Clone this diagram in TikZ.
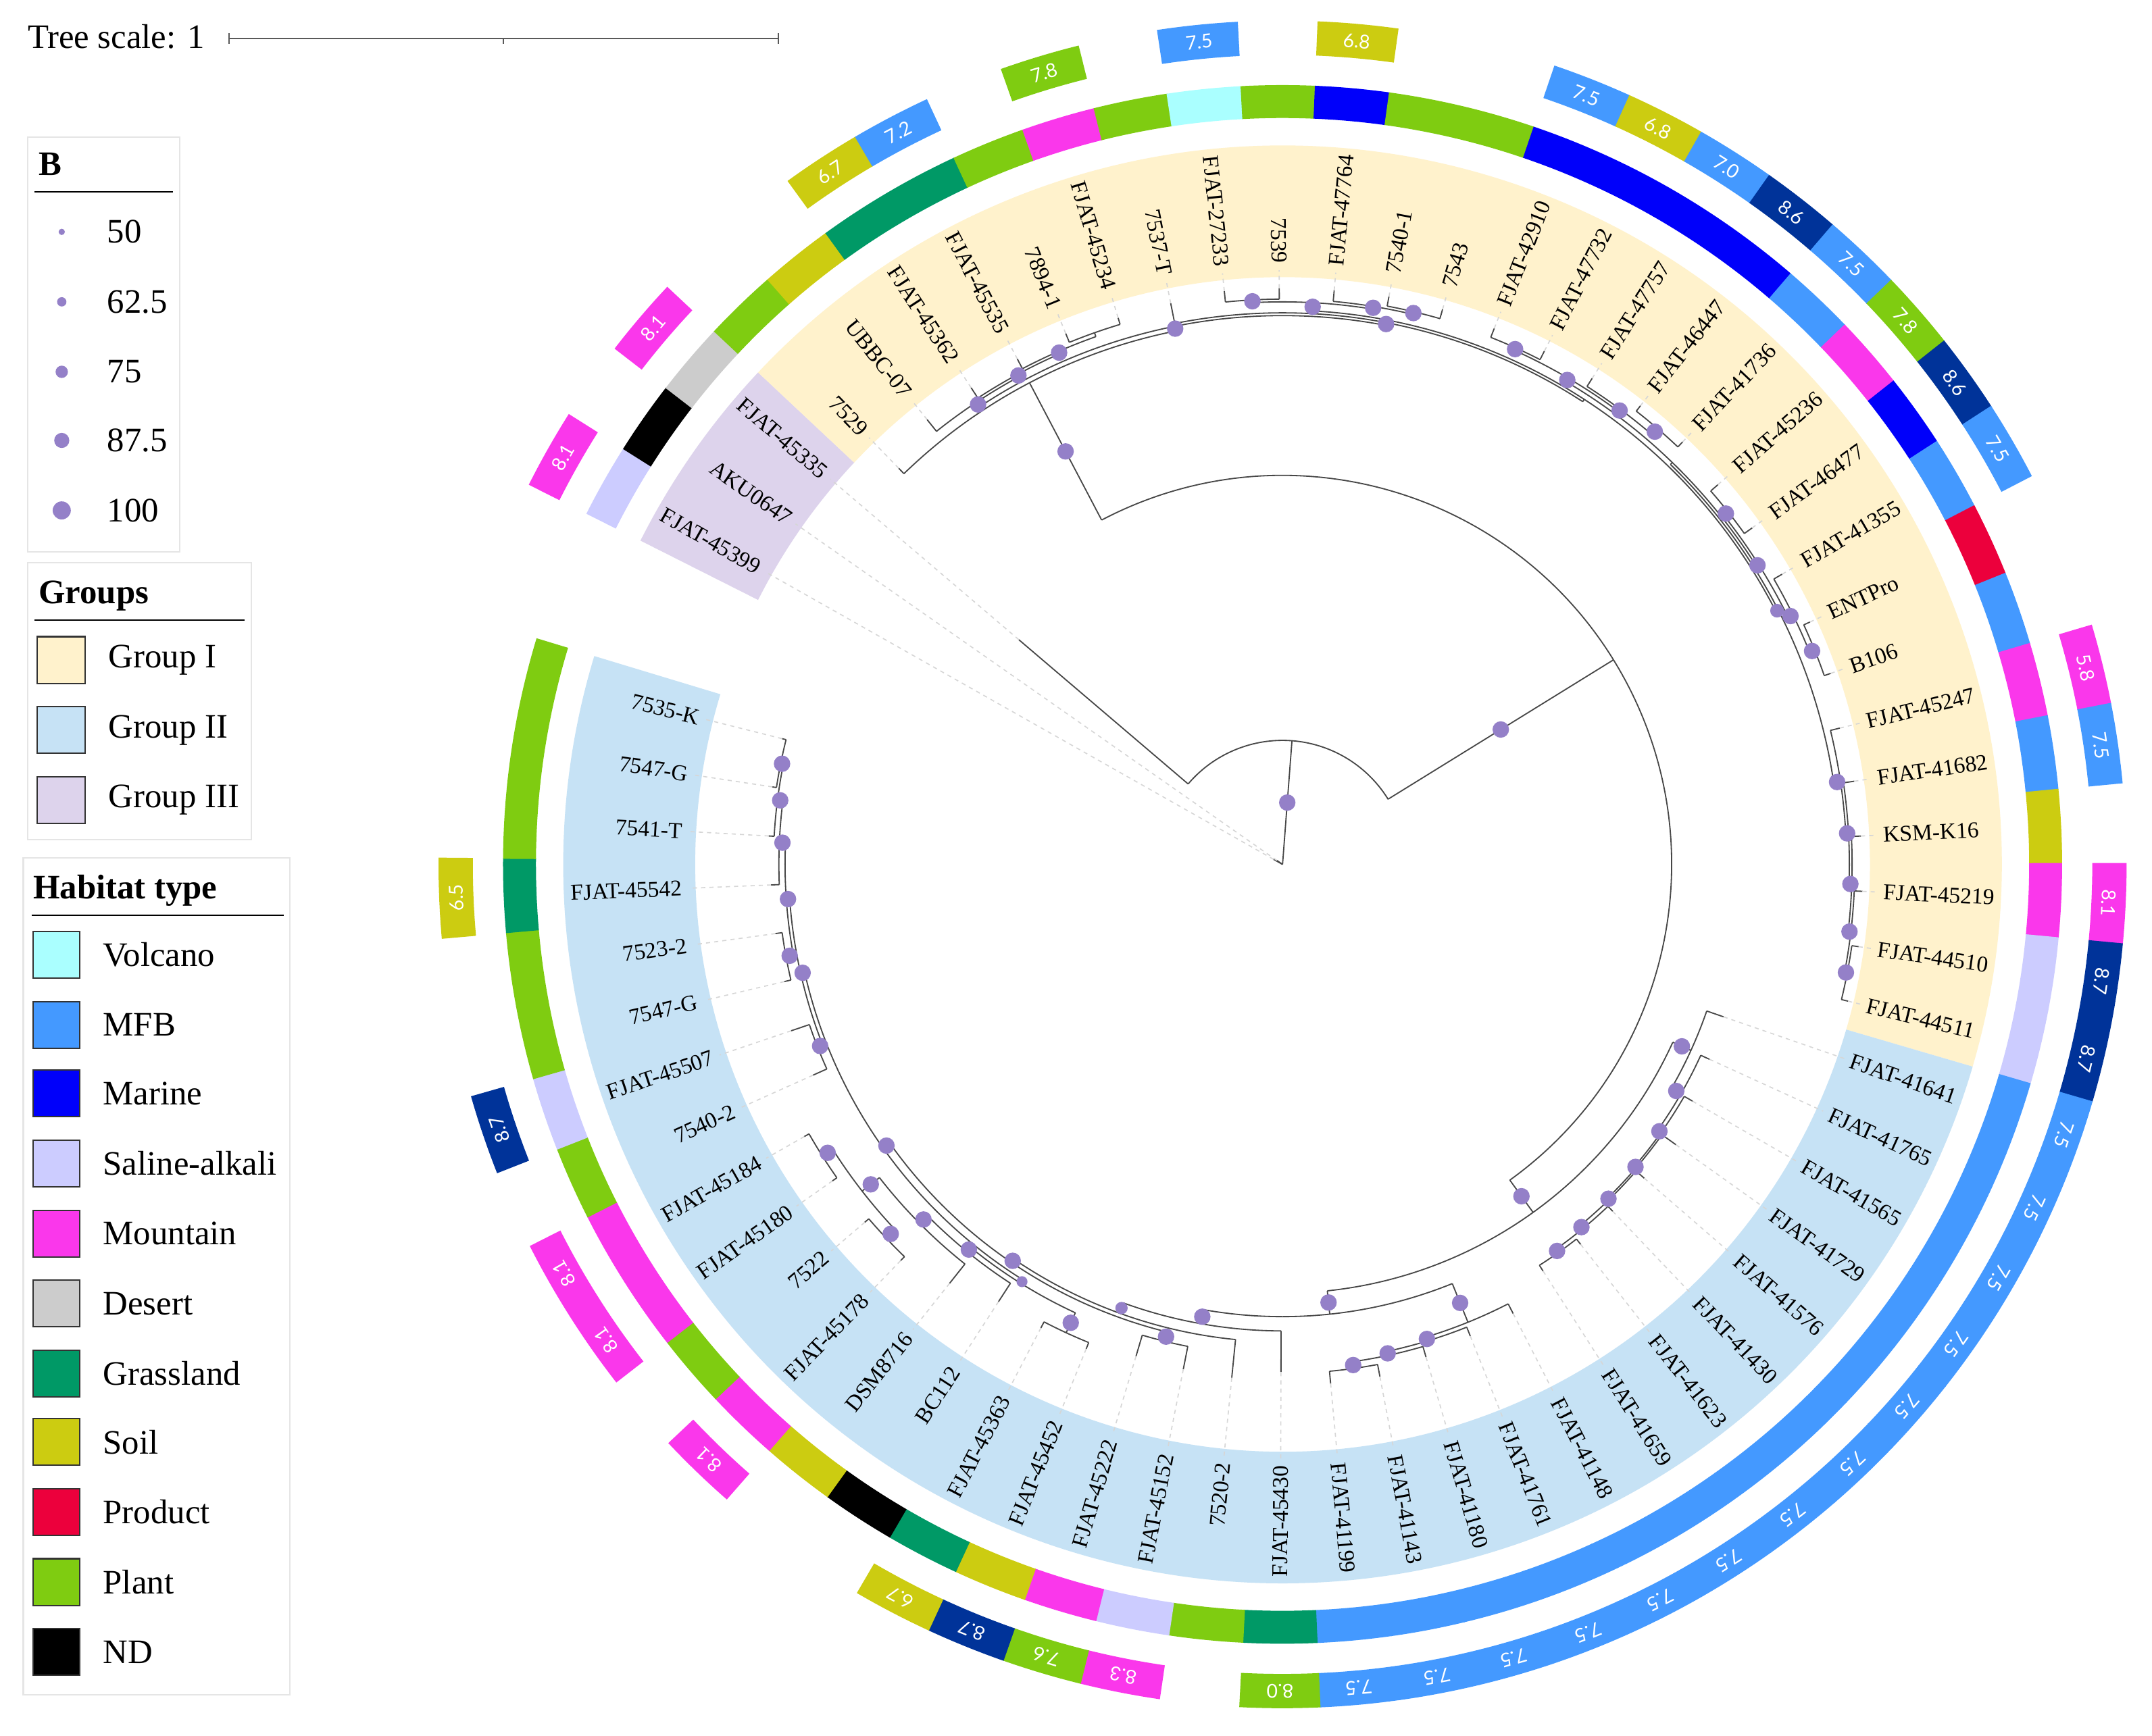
\documentclass[tikz,border=0pt]{standalone}
\usepackage{fontspec}
\setmainfont{Liberation Serif}
\newfontfamily\boxfont{Lato}
\definecolor{cVol}{RGB}{170,255,255}
\definecolor{cMFB}{RGB}{68,153,255}
\definecolor{cMar}{RGB}{0,0,250}
\definecolor{cSal}{RGB}{204,204,255}
\definecolor{cMnt}{RGB}{250,55,235}
\definecolor{cDes}{RGB}{204,204,204}
\definecolor{cGra}{RGB}{0,153,102}
\definecolor{cSoi}{RGB}{204,204,17}
\definecolor{cPro}{RGB}{236,0,60}
\definecolor{cPla}{RGB}{127,204,17}
\definecolor{cND}{RGB}{0,0,0}
\definecolor{cDB}{RGB}{0,51,153}
\definecolor{gI}{RGB}{255,242,204}
\definecolor{gII}{RGB}{198,226,245}
\definecolor{gIII}{RGB}{221,211,236}
\definecolor{bsc}{RGB}{148,128,200}
\tikzset{
 tbr/.style={draw=black!72, line width=0.9pt},
 dl/.style={draw=black!16, line width=0.8pt, dash pattern=on 3pt off 3pt},
 lab/.style={inner sep=0pt, font=\fontsize{16.5}{18}\selectfont},
 legtxt/.style={anchor=west, inner sep=0pt, font=\fontsize{25}{27}\selectfont},
 legttl/.style={anchor=base west, inner sep=0pt, font=\bfseries\fontsize{25}{27}\selectfont},
 legbox/.style={draw=black!10, line width=1pt, fill=white},
 swatch/.style={draw=black!80, line width=1pt},
 valtxt/.style={text=white, inner sep=0pt, font=\boxfont\fontsize{14}{14}\selectfont},
}
% tree node: angle, r parent, r node, first child angle, last child angle
\newcommand\tn[5]{\draw[tbr] ({#1}:{#2}) -- ({#1}:{#3}) ({#4}:{#3}) arc[start angle={#4},end angle={#5},radius={#3}];}
% leaf: angle, r parent, tip
\newcommand\lf[3]{\draw[tbr] ({#1}:{#2}) -- ({#1}:{#3}); \draw[dl] ({#1}:{#3}) -- ({#1}:433);}
% bootstrap symbol: angle, r parent, r node, size
\newcommand\bs[4]{\fill[bsc] ({#1}:{(#2+#3)/2}) circle[radius=#4];}
% annular sector: colour, a1, a2, r in, r out
\newcommand\sect[5]{\fill[#1] ({#2}:{#4}) arc[start angle={#2},end angle={#3},radius={#4}] -- ({#3}:{#5}) arc[start angle={#3},end angle={#2},radius={#5}] -- cycle;}
\begin{document}
\begin{tikzpicture}[x=1pt,y=1pt]
\useasboundingbox (-934.5,-635) rectangle (633.5,630);
\fill[white] (-934.5,-635) rectangle (633.5,630);
% group bands
\sect{gIII}{153.235}{136.825}{428}{524}
\sect{gI}{136.825}{-16.335}{428}{524}
\sect{gII}{-16.335}{-196.845}{428}{524}
% ---------------- tree ----------------
\lf{150.5}{0}{7.5}
\lf{145.03}{0}{5}
\tn{85.645}{0}{90.4}{139.56}{31.73}
\lf{139.56}{90.4}{252.5}
\tn{31.73}{90.4}{283.5}{117.71}{-54.255}
% group I
\tn{117.71}{283.5}{396.5}{134.09}{101.33}
\lf{134.09}{396.5}{402}
\tn{101.33}{396.5}{400}{123.5}{79.155}
\tn{123.5}{400}{404}{128.62}{118.37}
\lf{128.62}{404}{415}
\tn{118.37}{404}{406}{123.15}{113.58}
\lf{123.15}{406}{415}
\tn{113.58}{406}{408}{117.68}{109.475}
\lf{117.68}{408}{416}
\tn{109.475}{408}{411}{112.21}{106.74}
\lf{112.21}{411}{418}
\lf{106.74}{411}{416}
\tn{79.155}{400}{402}{101.27}{57.04}
\lf{101.27}{402}{417}
\tn{57.04}{402}{404}{86.91}{27.168}
\tn{86.91}{404}{410}{93.065}{80.76}
\tn{93.065}{410}{412}{95.80}{90.33}
\lf{95.80}{412}{420}
\lf{90.33}{412}{420}
\tn{80.76}{410}{412}{84.86}{76.655}
\lf{84.86}{412}{420}
\tn{76.655}{412}{414}{79.39}{73.92}
\lf{79.39}{414}{421}
\lf{73.92}{414}{421}
\tn{27.168}{404}{406}{45.885}{8.451}
\tn{45.885}{406}{408}{59.56}{32.21}
\tn{59.56}{408}{411}{65.715}{53.41}
\tn{65.715}{411}{413}{68.45}{62.98}
\lf{68.45}{413}{420}
\lf{62.98}{413}{420}
\tn{53.41}{411}{413}{57.51}{49.305}
\lf{57.51}{413}{420}
\tn{49.305}{413}{419}{52.04}{46.57}
\lf{52.04}{419}{424}
\lf{46.57}{419}{424}
\tn{32.21}{408}{410}{38.365}{26.06}
\tn{38.365}{410}{414}{41.10}{35.63}
\lf{41.10}{414}{421}
\lf{35.63}{414}{421}
\tn{26.06}{410}{414}{30.16}{21.955}
\lf{30.16}{414}{421}
\tn{21.955}{414}{418}{24.69}{19.22}
\lf{24.69}{418}{423}
\lf{19.22}{418}{423}
\tn{8.451}{406}{411}{13.75}{3.152}
\lf{13.75}{411}{418}
\tn{3.152}{411}{413}{8.28}{-1.976}
\lf{8.28}{413}{421}
\tn{-1.976}{413}{415}{2.81}{-6.7625}
\lf{2.81}{415}{422}
\tn{-6.7625}{415}{417}{-2.66}{-10.865}
\lf{-2.66}{417}{423}
\tn{-10.865}{417}{419}{-8.13}{-13.60}
\lf{-8.13}{419}{424}
\lf{-13.60}{419}{424}
% group II
\tn{-54.255}{283.5}{312.5}{-24.50}{-84.01}
\tn{-24.50}{312.5}{327}{-19.07}{-29.925}
\lf{-19.07}{327}{340}
\tn{-29.925}{327}{335}{-24.54}{-35.31}
\lf{-24.54}{335}{342}
\tn{-35.31}{335}{338}{-30.01}{-40.61}
\lf{-30.01}{338}{345}
\tn{-40.61}{338}{339.5}{-35.48}{-45.735}
\lf{-35.48}{339.5}{352}
\tn{-45.735}{339.5}{341}{-40.95}{-50.52}
\lf{-40.95}{341}{349}
\tn{-50.52}{341}{344}{-46.42}{-54.625}
\lf{-46.42}{344}{349}
\tn{-54.625}{344}{347}{-51.89}{-57.36}
\lf{-51.89}{347}{352}
\lf{-57.36}{347}{352}
\tn{-84.01}{312.5}{329.6}{-67.96}{-100.06}
\tn{-67.96}{329.6}{360}{-62.83}{-73.085}
\lf{-62.83}{360}{368}
\tn{-73.085}{360}{363}{-68.30}{-77.87}
\lf{-68.30}{363}{370}
\tn{-77.87}{363}{366}{-73.77}{-81.975}
\lf{-73.77}{366}{374}
\tn{-81.975}{366}{371}{-79.24}{-84.71}
\lf{-79.24}{371}{380}
\lf{-84.71}{371}{380}
\tn{-100.06}{329.6}{340}{-90.18}{-109.945}
\lf{-90.18}{340}{370}
\tn{-109.945}{340}{348}{-95.65}{-124.24}
\lf{-95.65}{348}{376}
\tn{-124.24}{348}{351}{-103.855}{-144.62}
\tn{-103.855}{351}{358}{-101.12}{-106.59}
\lf{-101.12}{358}{375}
\lf{-106.59}{358}{374}
\tn{-144.62}{351}{357}{-121.975}{-167.27}
\tn{-121.975}{357}{360}{-114.795}{-129.155}
\tn{-114.795}{360}{376}{-112.06}{-117.53}
\lf{-112.06}{376}{381}
\lf{-117.53}{376}{381}
\tn{-129.155}{360}{364}{-123.0}{-135.31}
\lf{-123.0}{364}{380}
\tn{-135.31}{364}{372}{-128.47}{-142.145}
\lf{-128.47}{372}{390}
\tn{-142.145}{372}{388}{-136.675}{-147.615}
\tn{-136.675}{388}{397}{-133.94}{-139.41}
\lf{-133.94}{397}{401}
\lf{-139.41}{397}{401}
\tn{-147.615}{388}{397}{-144.88}{-150.35}
\lf{-144.88}{397}{401}
\lf{-150.35}{397}{401}
\tn{-167.27}{357}{360}{-158.555}{-175.99}
\tn{-158.555}{360}{364}{-155.82}{-161.29}
\lf{-155.82}{364}{375}
\lf{-161.29}{364}{378}
\tn{-175.99}{360}{362.5}{-169.495}{-182.485}
\tn{-169.495}{362.5}{368}{-166.76}{-172.23}
\lf{-166.76}{368}{373}
\lf{-172.23}{368}{373}
\tn{-182.485}{362.5}{367}{-177.70}{-187.27}
\lf{-177.70}{367}{373}
\tn{-187.27}{367}{371}{-183.17}{-191.375}
\lf{-183.17}{371}{375}
\tn{-191.375}{371}{373}{-188.64}{-194.11}
\lf{-188.64}{373}{376}
\lf{-194.11}{373}{376}
% bootstrap symbols
\bs{85.645}{0}{90.4}{6}
\bs{31.73}{90.4}{283.5}{6}
\bs{117.71}{283.5}{396.5}{6}
\bs{101.33}{396.5}{400}{6}
\bs{123.5}{400}{404}{6}
\bs{118.37}{404}{406}{6}
\bs{113.58}{406}{408}{6}
\bs{79.155}{400}{402}{6}
\bs{86.91}{404}{410}{6}
\bs{93.065}{410}{412}{6}
\bs{80.76}{410}{412}{6}
\bs{76.655}{412}{414}{6}
\bs{27.168}{404}{406}{5}
\bs{59.56}{408}{411}{6}
\bs{65.715}{411}{413}{6}
\bs{53.41}{411}{413}{6}
\bs{49.305}{413}{419}{6}
\bs{32.21}{408}{410}{6}
\bs{38.365}{410}{414}{6}
\bs{26.06}{410}{414}{6}
\bs{21.955}{414}{418}{6}
\bs{8.451}{406}{411}{6}
\bs{3.152}{411}{413}{6}
\bs{-1.976}{413}{415}{6}
\bs{-6.7625}{415}{417}{6}
\bs{-10.865}{417}{419}{6}
\bs{-54.255}{283.5}{312.5}{6}
\bs{-24.50}{312.5}{327}{6}
\bs{-29.925}{327}{335}{6}
\bs{-35.31}{335}{338}{6}
\bs{-40.61}{338}{339.5}{6}
\bs{-45.735}{339.5}{341}{6}
\bs{-50.52}{341}{344}{6}
\bs{-54.625}{344}{347}{6}
\bs{-84.01}{312.5}{329.6}{6}
\bs{-67.96}{329.6}{360}{6}
\bs{-73.085}{360}{363}{6}
\bs{-77.87}{363}{366}{6}
\bs{-81.975}{366}{371}{6}
\bs{-100.06}{329.6}{340}{6}
\bs{-109.945}{340}{348}{4.5}
\bs{-124.24}{348}{351}{6}
\bs{-103.855}{351}{358}{6}
\bs{-144.62}{351}{357}{6}
\bs{-121.975}{357}{360}{4}
\bs{-114.795}{360}{376}{6}
\bs{-129.155}{360}{364}{6}
\bs{-135.31}{364}{372}{6}
\bs{-142.145}{372}{388}{6}
\bs{-136.675}{388}{397}{6}
\bs{-147.615}{388}{397}{6}
\bs{-167.27}{357}{360}{6}
\bs{-158.555}{360}{364}{6}
\bs{-175.99}{360}{362.5}{6}
\bs{-169.495}{362.5}{368}{6}
\bs{-182.485}{362.5}{367}{6}
\bs{-187.27}{367}{371}{6}
\bs{-191.375}{371}{373}{6}
% ---------------- leaf labels ----------------
\foreach \lbl [count=\idx from 0] in {FJAT-45399,AKU0647,FJAT-45335,7529,UBBC-07,FJAT-45362,FJAT-45535,7894-1,FJAT-45234,7537-T,FJAT-27233,7539,FJAT-47764,7540-1,7543,FJAT-42910,FJAT-47732,FJAT-47757,FJAT-46447,FJAT-41736,FJAT-45236,FJAT-46477,FJAT-41355,ENTPro,B106,FJAT-45247,FJAT-41682,KSM-K16,FJAT-45219,FJAT-44510,FJAT-44511,FJAT-41641,FJAT-41765,FJAT-41565,FJAT-41729,FJAT-41576,FJAT-41430,FJAT-41623,FJAT-41659,FJAT-41148,FJAT-41761,FJAT-41180,FJAT-41143,FJAT-41199,FJAT-45430,7520-2,FJAT-45152,FJAT-45222,FJAT-45452,FJAT-45363,BC112,DSM8716,FJAT-45178,7522,FJAT-45180,FJAT-45184,7540-2,FJAT-45507,7547-G,7523-2,FJAT-45542,7541-T,7547-G,7535-K}{
  \pgfmathsetmacro\ang{150.5-5.47*\idx}
  \pgfmathtruncatemacro\rh{cos(\ang)>0}
  \ifnum\rh=1
    \node[lab, anchor=west, rotate=\ang] (lab\idx) at (\ang:438) {\lbl};
  \else
    \node[lab, anchor=east, rotate=\ang+180] (lab\idx) at (\ang:438) {\lbl};
  \fi
}
% ---------------- habitat ring ----------------
\foreach \col [count=\idx from 0] in {cSal,cND,cDes,cPla,cSoi,cGra,cGra,cPla,cMnt,cPla,cVol,cPla,cMar,cPla,cPla,cMar,cMar,cMar,cMar,cMFB,cMnt,cMar,cMFB,cPro,cMFB,cMnt,cMFB,cSoi,cMnt,cSal,cSal,cMFB,cMFB,cMFB,cMFB,cMFB,cMFB,cMFB,cMFB,cMFB,cMFB,cMFB,cMFB,cMFB,cGra,cPla,cSal,cMnt,cSoi,cGra,cND,cSoi,cMnt,cPla,cMnt,cMnt,cPla,cSal,cPla,cPla,cGra,cPla,cPla,cPla}{
  \pgfmathsetmacro\aa{150.5-5.47*\idx+2.76}
  \pgfmathsetmacro\ab{150.5-5.47*\idx-2.76}
  \sect{\col}{\aa}{\ab}{544}{568}
}
% ---------------- value boxes ----------------
\foreach \idx/\val/\col in {0/8.1/cMnt,2/8.1/cMnt,5/6.7/cSoi,6/7.2/cMFB,8/7.8/cPla,10/7.5/cMFB,12/6.8/cSoi,15/7.5/cMFB,16/6.8/cSoi,17/7.0/cMFB,18/8.6/cDB,19/7.5/cMFB,20/7.8/cPla,21/8.6/cDB,22/7.5/cMFB,25/5.8/cMnt,26/7.5/cMFB,28/8.1/cMnt,29/8.7/cDB,30/8.7/cDB,31/7.5/cMFB,32/7.5/cMFB,33/7.5/cMFB,34/7.5/cMFB,35/7.5/cMFB,36/7.5/cMFB,37/7.5/cMFB,38/7.5/cMFB,39/7.5/cMFB,40/7.5/cMFB,41/7.5/cMFB,42/7.5/cMFB,43/7.5/cMFB,44/8.0/cPla,46/8.3/cMnt,47/7.6/cPla,48/8.7/cDB,49/6.7/cSoi,52/8.1/cMnt,54/8.1/cMnt,55/8.1/cMnt,57/8.7/cDB,60/6.5/cSoi}{
  \pgfmathsetmacro\ang{150.5-5.47*\idx}
  \pgfmathsetmacro\aa{\ang+2.76}
  \pgfmathsetmacro\ab{\ang-2.76}
  \sect{\col}{\aa}{\ab}{590}{615}
  \node[valtxt, rotate=\ang-90] (val\idx) at (\ang:602.5) {\val};
}
% ---------------- tree scale ----------------
\node[anchor=base west, inner sep=0pt, font=\fontsize{25}{27}\selectfont] (ts) at (-914.5,595) {Tree scale: 1};
\draw[black!65, line width=1pt] (-767.5,602) -- (-367.5,602)
  (-767.5,598) -- (-767.5,606) (-367.5,598) -- (-367.5,606) (-567.5,602) -- (-567.5,598);
% ---------------- legend B ----------------
\draw[legbox] (-914.5,228) rectangle (-803.5,530);
\node[legttl] (lB) at (-906.5,502) {B};
\draw[black, line width=1pt] (-909.5,490) -- (-808.5,490);
\foreach \y/\rr/\lbl in {461/2.3/50,410/3.4/62.5,359/4.5/75,309/5.5/87.5,258/6.6/100}{
  \fill[bsc] (-889.5,\y) circle[radius=\rr];
  \node[legtxt] at (-856.5,\y) {\lbl};
}
% ---------------- legend groups ----------------
\draw[legbox] (-914.5,18) rectangle (-751.5,220);
\node[legttl] (lG) at (-906.5,190) {Groups};
\draw[black, line width=1pt] (-909.5,178) -- (-756.5,178);
\foreach \y/\col/\lbl in {149/gI/Group I,98/gII/Group II,47/gIII/Group III}{
  \draw[swatch, fill=\col] (-907.5,\y-17) rectangle (-872.5,\y+17);
  \node[legtxt] at (-855.5,\y) {\lbl};
}
% ---------------- legend habitat ----------------
\draw[legbox] (-917.5,-605) rectangle (-723.5,5);
\node[legttl] (lH) at (-910.5,-25) {Habitat type};
\draw[black, line width=1pt] (-911.5,-37) -- (-727.5,-37);
\foreach \y/\col/\lbl in {-66/cVol/Volcano,-117/cMFB/MFB,-167/cMar/Marine,-218/cSal/Saline-alkali,-269/cMnt/Mountain,-320/cDes/Desert,-371/cGra/Grassland,-421/cSoi/Soil,-472/cPro/Product,-523/cPla/Plant,-574/cND/ND}{
  \draw[swatch, fill=\col] (-910.5,\y-17) rectangle (-876.5,\y+17);
  \node[legtxt] at (-859.5,\y) {\lbl};
}
\end{tikzpicture}
\end{document}
